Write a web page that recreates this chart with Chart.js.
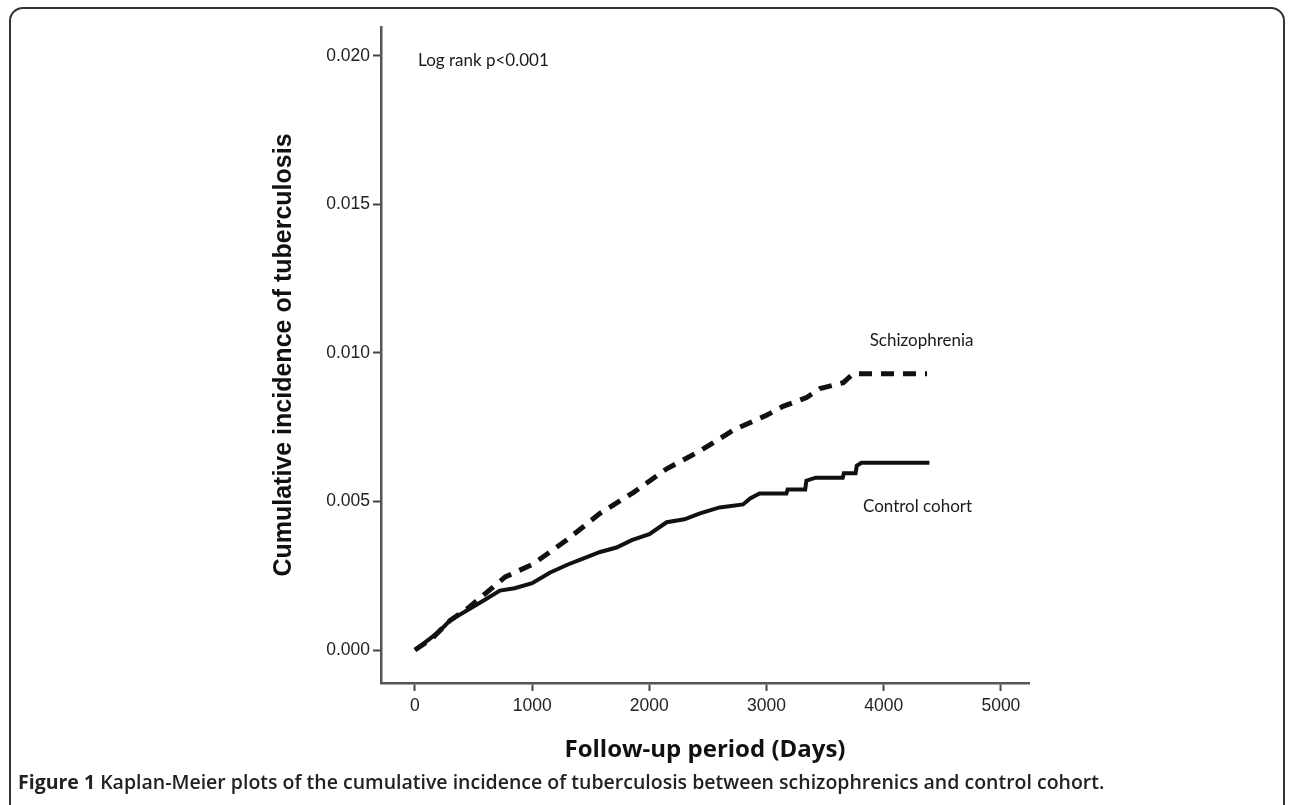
<!DOCTYPE html>
<html>
<head>
<meta charset="utf-8">
<script src="https://cdn.jsdelivr.net/npm/chart.js@4.4.1/dist/chart.umd.min.js"></script>
<style>
    html, body { margin: 0; padding: 0; background: #fff; overflow: hidden; }
    #wrap { position: relative; width: 1290px; height: 805px; }
    #frame {
        position: absolute; left: 9px; top: 7px; width: 1276px; height: 840px;
        border: 2px solid #333; border-radius: 14px; box-sizing: border-box;
    }
    #caption {
        position: absolute; left: 18px; top: 768px; margin: 0;
        font-family: "Open Sans", sans-serif; font-size: 19.5px; font-weight: 600; color: #222;
        white-space: nowrap;
    }
    #caption b { font-weight: 700; }
    canvas { position: absolute; left: 0; top: 0; }
</style>
</head>
<body>
<div id="wrap">
    <div id="frame"></div>
    <canvas id="kmChart" width="1290" height="805"></canvas>
    <p id="caption"><b>Figure 1</b> Kaplan-Meier plots of the cumulative incidence of tuberculosis between schizophrenics and control cohort.</p>
</div>
<script>
// Follow-up days and cumulative incidence
const schizoDays = [0, 150, 300, 450, 600, 770, 1010, 1294, 1579, 1863, 2148, 2432, 2716, 3000, 3140, 3342, 3456, 3655, 3740, 4370];
const schizoIncidence = [0, 0.0004, 0.0010, 0.0014, 0.0019, 0.00246, 0.0029, 0.0037, 0.0046, 0.0053, 0.0061, 0.0067, 0.0074, 0.0079, 0.0082, 0.0085, 0.0088, 0.0090, 0.0093, 0.0093];

const controlDays = [0, 100, 200, 300, 450, 600, 725, 850, 1000, 1150, 1300, 1450, 1580, 1720, 1850, 2000, 2148, 2300, 2432, 2600, 2800, 2860, 2940, 3170, 3180, 3330, 3340, 3420, 3650, 3660, 3760, 3770, 3810, 4390];
const controlIncidence = [0, 0.0003, 0.0006, 0.0010, 0.00135, 0.0017, 0.0020, 0.00208, 0.00225, 0.0026, 0.00287, 0.0031, 0.0033, 0.00345, 0.0037, 0.0039, 0.0043, 0.0044, 0.0046, 0.0048, 0.0049, 0.0051, 0.00527, 0.00527, 0.0054, 0.0054, 0.0057, 0.0058, 0.0058, 0.00595, 0.00595, 0.0062, 0.0063, 0.0063];

const xTicks = [0, 1000, 2000, 3000, 4000, 5000];
const yTicks = [0, 0.005, 0.010, 0.015, 0.020];

const notes = [
    { text: 'Log rank p<0.001', x: 26, y: 0.01983 },
    { text: 'Schizophrenia', x: 3880, y: 0.01042 },
    { text: 'Control cohort', x: 3823, y: 0.00484 },
];

function toPoints(xs, ys) {
    return xs.map((x, i) => ({ x: x, y: ys[i] }));
}

const notesPlugin = {
    id: 'notes',
    afterDatasetsDraw(chart) {
        const ctx = chart.ctx;
        const xs = chart.scales.x;
        const ys = chart.scales.y;
        ctx.save();
        ctx.font = '17px Lato, sans-serif';
        ctx.fillStyle = '#1a1a1a';
        ctx.textAlign = 'left';
        ctx.textBaseline = 'middle';
        notes.forEach(n => {
            ctx.fillText(n.text, xs.getPixelForValue(n.x), ys.getPixelForValue(n.y));
        });
        ctx.restore();
    }
};

const axisFont = { family: '"Liberation Sans", Arial, sans-serif', size: 17.5 };

new Chart(document.getElementById('kmChart'), {
    type: 'scatter',
    data: {
        datasets: [{
            label: 'Schizophrenia',
            data: toPoints(schizoDays, schizoIncidence),
            showLine: true,
            borderColor: '#111',
            borderWidth: 5,
            borderDash: [13, 9],
            pointRadius: 0,
        },
        {
            label: 'Control cohort',
            data: toPoints(controlDays, controlIncidence),
            showLine: true,
            borderColor: '#111',
            borderWidth: 4,
            pointRadius: 0,
        }]
    },
    options: {
        responsive: false,
        animation: false,
        layout: {
            padding: { left: 269, top: 27, right: 261, bottom: 40 }
        },
        plugins: {
            legend: { display: false },
            tooltip: { enabled: false },
        },
        scales: {
            x: {
                type: 'linear',
                min: -290,
                max: 5240,
                afterBuildTicks: (scale) => { scale.ticks = xTicks.map(v => ({ value: v })); },
                afterFit: (scale) => { scale.height = 82; },
                border: { color: '#555', width: 2.5 },
                grid: { drawOnChartArea: false, tickLength: 8, tickColor: '#444', tickWidth: 2 },
                ticks: { font: axisFont, color: '#222', padding: 5, callback: (v) => String(v) },
                title: {
                    display: true,
                    text: 'Follow-up period (Days)',
                    font: { family: '"Open Sans", sans-serif', size: 24, weight: 'bold' },
                    color: '#111',
                    padding: 0,
                },
            },
            y: {
                type: 'linear',
                min: -0.00111,
                max: 0.02097,
                afterBuildTicks: (scale) => { scale.ticks = yTicks.map(v => ({ value: v })); },
                afterFit: (scale) => { scale.width = 112; },
                border: { color: '#555', width: 2.5 },
                grid: { drawOnChartArea: false, tickLength: 8, tickColor: '#444', tickWidth: 2 },
                ticks: { font: axisFont, color: '#222', padding: 3, callback: (v) => v.toFixed(3) },
                title: {
                    display: true,
                    text: 'Cumulative incidence of tuberculosis',
                    font: { family: '"Liberation Sans", Arial, sans-serif', size: 25, weight: 'bold' },
                    color: '#111',
                    padding: 0,
                },
            },
        },
    },
    plugins: [notesPlugin],
});
</script>
</body>
</html>
